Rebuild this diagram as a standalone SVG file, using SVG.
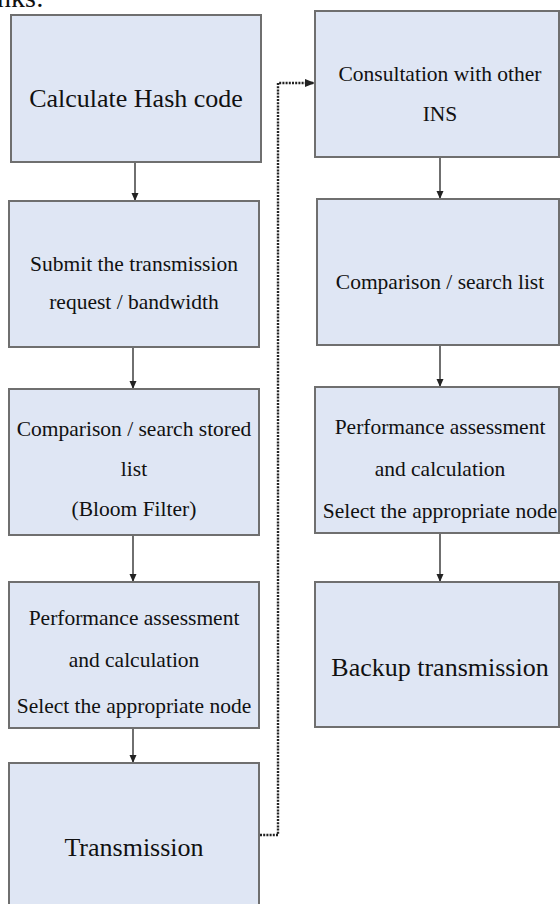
<svg xmlns="http://www.w3.org/2000/svg" width="560" height="904" viewBox="0 0 560 904">
<style>
.box{fill:#dfe6f4;stroke:#6f6f6f;stroke-width:2}
.t{font-family:"Liberation Serif","Times New Roman",serif;fill:#111;text-anchor:middle}
.s20{font-size:21.5px}
.s25{font-size:26px}
.arr{stroke:#222;stroke-width:1.3;fill:none;marker-end:url(#ah)}
.dot{stroke:#222;stroke-width:2.4;stroke-dasharray:2 1.2;fill:none;marker-end:url(#ah2)}
</style>
<defs>
<marker id="ah" markerWidth="8" markerHeight="10" refX="8" refY="5" orient="auto" markerUnits="userSpaceOnUse">
<path d="M0,1.5 L8,5 L0,8.5 z" fill="#222"/>
</marker>
<marker id="ah2" markerWidth="10" markerHeight="10" refX="10" refY="5" orient="auto" markerUnits="userSpaceOnUse">
<path d="M0,1 L10,5 L0,9 z" fill="#222"/>
</marker>
</defs>
<text class="t" x="-3" y="7" style="font-size:28px;text-anchor:start">nks:</text>
<g id="connectors">
<line class="arr" x1="135" y1="162" x2="135" y2="201"/>
<line class="arr" x1="133" y1="347" x2="133" y2="389"/>
<line class="arr" x1="133" y1="535" x2="133" y2="582"/>
<line class="arr" x1="133" y1="728" x2="133" y2="763"/>
<line class="arr" x1="440" y1="157" x2="440" y2="199"/>
<line class="arr" x1="440" y1="345" x2="440" y2="387"/>
<line class="arr" x1="440" y1="533" x2="440" y2="582"/>
<path class="dot" d="M260,835 H278 V83 H315"/>
</g>
<g id="n1"><rect class="box" x="11" y="15" width="250" height="147"/>
<text class="t s25" x="136" y="107">Calculate Hash code</text></g>
<g id="n2"><rect class="box" x="9" y="201" width="250" height="146"/>
<text class="t s20" x="134" y="271">Submit the transmission</text>
<text class="t s20" x="134" y="309">request / bandwidth</text></g>
<g id="n3"><rect class="box" x="9" y="389" width="250" height="146"/>
<text class="t s20" x="134" y="436">Comparison / search stored</text>
<text class="t s20" x="134" y="476">list</text>
<text class="t s20" x="134" y="516">(Bloom Filter)</text></g>
<g id="n4"><rect class="box" x="9" y="582" width="250" height="146"/>
<text class="t s20" x="134" y="625">Performance assessment</text>
<text class="t s20" x="134" y="667">and calculation</text>
<text class="t s20" x="134" y="713">Select the appropriate node</text></g>
<g id="n5"><rect class="box" x="9" y="763" width="250" height="160"/>
<text class="t s25" x="134" y="856">Transmission</text></g>
<g id="n6"><rect class="box" x="315" y="11" width="244" height="146"/>
<text class="t s20" x="440" y="81">Consultation with other</text>
<text class="t s20" x="440" y="121">INS</text></g>
<g id="n7"><rect class="box" x="317" y="199" width="242" height="146"/>
<text class="t s20" x="440" y="289">Comparison / search list</text></g>
<g id="n8"><rect class="box" x="315" y="387" width="244" height="146"/>
<text class="t s20" x="440" y="434">Performance assessment</text>
<text class="t s20" x="440" y="476">and calculation</text>
<text class="t s20" x="440" y="518">Select the appropriate node</text></g>
<g id="n9"><rect class="box" x="315" y="582" width="244" height="145"/>
<text class="t s25" x="440" y="676">Backup transmission</text></g>
</svg>
